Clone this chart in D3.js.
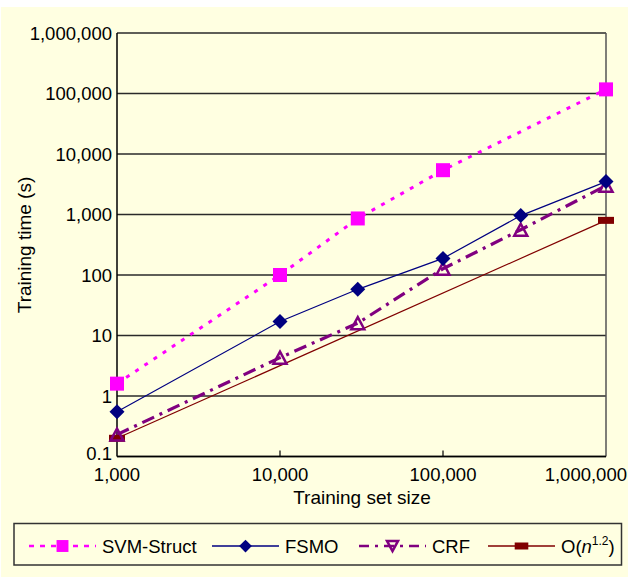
<!DOCTYPE html>
<html>
<head>
<meta charset="utf-8">
<script src="https://cdn.jsdelivr.net/npm/d3@7"></script>
<style>
  body { margin: 0; background: #fff; }
  svg text { font-family: "Liberation Sans", Arial, sans-serif; fill: #000; }
</style>
</head>
<body>
<svg id="chart" width="628" height="577"></svg>
<script>
// training set sizes and times (s)
var svmSizes = [1000, 10000, 30000, 100000, 1000000];
var svmTimes = [1.6, 100, 860, 5400, 117000];
var fsmoSizes = [1000, 10000, 30000, 100000, 300000, 1000000];
var fsmoTimes = [0.55, 17, 58, 188, 960, 3500];
var crfSizes = [1000, 10000, 30000, 100000, 300000, 1000000];
var crfTimes = [0.23, 4.3, 16, 127, 560, 3000];
var bigOSizes = [1000, 1000000];
var bigOTimes = [0.2, 800];

var yTicks = [0.1, 1, 10, 100, 1000, 10000, 100000, 1000000];
var xTicks = [1000, 10000, 100000, 1000000];

var bg = "#FFFFE1";
var svg = d3.select("#chart");
svg.append("rect").attr("x", 1).attr("y", 7).attr("width", 627).attr("height", 570).attr("fill", bg);

var pLeft = 117, pRight = 606, pTop = 33, pBottom = 456.5;
var x = d3.scaleLog().domain([1000, 1000000]).range([pLeft, pRight]);
var y = d3.scaleLog().domain([0.1, 1000000]).range([pBottom, pTop]);
var fmt = d3.format(",");

// gridlines
svg.append("g").selectAll("line").data(yTicks).enter().append("line")
	.attr("x1", pLeft).attr("x2", pRight)
	.attr("y1", (d) => y(d)).attr("y2", (d) => y(d))
	.attr("stroke", "#2a2a2a").attr("stroke-width", 1.5);

// frame
svg.append("line").attr("x1", pRight).attr("x2", pRight).attr("y1", pTop).attr("y2", pBottom)
	.attr("stroke", "#555").attr("stroke-width", 1.5);
svg.append("line").attr("x1", pLeft).attr("x2", pLeft).attr("y1", pTop).attr("y2", pBottom)
	.attr("stroke", "#000").attr("stroke-width", 1.5);
svg.append("line").attr("x1", pLeft).attr("x2", pRight).attr("y1", pBottom).attr("y2", pBottom)
	.attr("stroke", "#000").attr("stroke-width", 1.5);

// inner x ticks
svg.append("g").selectAll("line").data(xTicks.slice(1, -1)).enter().append("line")
	.attr("x1", (d) => x(d)).attr("x2", (d) => x(d))
	.attr("y1", pBottom).attr("y2", pBottom - 6)
	.attr("stroke", "#000").attr("stroke-width", 1.2);

// tick labels (lowest y label is nudged up, last x label kept inside the frame)
svg.append("g").selectAll("text").data(yTicks).enter().append("text")
	.attr("x", 112).attr("y", (d, i) => y(d) + (i ? 6.5 : 3))
	.attr("text-anchor", "end").attr("font-size", 18.5)
	.text((d) => fmt(d));
svg.append("g").selectAll("text").data(xTicks).enter().append("text")
	.attr("x", (d, i) => (i === xTicks.length - 1 ? 627 : x(d))).attr("y", 480.5)
	.attr("text-anchor", (d, i) => (i === xTicks.length - 1 ? "end" : "middle")).attr("font-size", 18.5)
	.text((d) => fmt(d));

// axis titles
svg.append("text").attr("x", 362).attr("y", 504).attr("text-anchor", "middle")
	.attr("font-size", 19).text("Training set size");
svg.append("text").attr("transform", "translate(31,245) rotate(-90)").attr("text-anchor", "middle")
	.attr("font-size", 19).text("Training time (s)");

var line = d3.line().x((d) => x(d[0])).y((d) => y(d[1]));
const zip = (a, b) => a.map((v, i) => [v, b[i]]);

var series = [
	{ name: "SVM-Struct", pts: zip(svmSizes, svmTimes), color: "#FF00FF", width: 3, dash: "4,7", mark: "square" },
	{ name: "FSMO", pts: zip(fsmoSizes, fsmoTimes), color: "#000080", width: 1.2, dash: null, mark: "diamond" },
	{ name: "CRF", pts: zip(crfSizes, crfTimes), color: "#800080", width: 3.2, dash: "13,6,3,6", mark: "triangle" },
	{ name: "O(n1.2)", pts: zip(bigOSizes, bigOTimes), color: "#800000", width: 1.2, dash: null, mark: "rect" },
];

function drawMark(g, kind, color, cx, cy, small, down) {
	var s = small ? 0.85 : 1;
	if (kind === "square") {
		g.append("rect").attr("x", cx - 7 * s).attr("y", cy - 7 * s).attr("width", 14 * s).attr("height", 14 * s).attr("fill", color);
	} else if (kind === "diamond") {
		var r = 7.5 * s;
		g.append("path").attr("d", `M${cx},${cy - r}L${cx + r},${cy}L${cx},${cy + r}L${cx - r},${cy}Z`).attr("fill", color);
	} else if (kind === "triangle") {
		var h = 6 * s, w = 6.5 * s, k = down ? -1 : 1;
		g.append("path").attr("d", `M${cx},${cy - k * h}L${cx + w},${cy + k * h}L${cx - w},${cy + k * h}Z`)
			.attr("fill", "none").attr("stroke", color).attr("stroke-width", 2.5).attr("stroke-linejoin", "miter");
	} else {
		g.append("rect").attr("x", cx - 8 * s).attr("y", cy - 3.5).attr("width", 16 * s).attr("height", 7).attr("fill", color);
	}
}

var plot = svg.append("g");
series.slice().reverse().forEach((s) => {
	plot.append("path").datum(s.pts).attr("d", line).attr("fill", "none")
		.attr("stroke", s.color).attr("stroke-width", s.width).attr("stroke-dasharray", s.dash);
});
series.slice().reverse().forEach((s) => {
	s.pts.forEach((p) => drawMark(plot, s.mark, s.color, x(p[0]), y(p[1]), false, false));
});

// legend
svg.append("rect").attr("x", 14).attr("y", 523.5).attr("width", 607.5).attr("height", 41.5)
	.attr("fill", "none").attr("stroke", "#333").attr("stroke-width", 1.5);
var legX = [29, 212, 359, 488];
var ly = 546;
series.forEach((s, i) => {
	var g = svg.append("g");
	var x0 = legX[i], x1 = x0 + 67;
	g.append("line").attr("x1", x0).attr("x2", x1).attr("y1", ly).attr("y2", ly)
		.attr("stroke", s.color).attr("stroke-width", s.width === 1.2 ? 1.5 : 2.5)
		.attr("stroke-dasharray", s.mark === "square" ? "5,6" : s.mark === "triangle" ? "10,6,3,6" : null);
	drawMark(g, s.mark, s.color, (x0 + x1) / 2, ly, true, true);
	var t = g.append("text").attr("x", x1 + 6).attr("y", ly + 7).attr("font-size", 18.5);
	if (s.mark === "rect") {
		t.append("tspan").text("O(");
		t.append("tspan").attr("font-style", "italic").text("n");
		t.append("tspan").attr("font-size", 12).attr("dy", -8).text("1.2");
		t.append("tspan").attr("dy", 8).text(")");
	} else {
		t.text(s.name);
	}
});
</script>
</body>
</html>
